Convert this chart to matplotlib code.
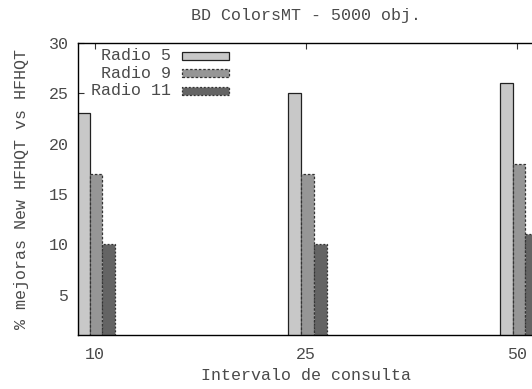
import matplotlib
matplotlib.use("Agg")
import matplotlib.pyplot as plt
from matplotlib.patches import Rectangle
import numpy as np

plt.rcParams['font.family'] = ['Liberation Mono', 'DejaVu Sans Mono']

categories = ["10", "25", "50"]
series_names = ["Radio 5", "Radio 9", "Radio 11"]
radio5 = [23, 25, 26]
radio9 = [17, 17, 18]
radio11 = [10, 10, 11]
series = [radio5, radio9, radio11]
yticks = [5, 10, 15, 20, 25, 30]

fills = ["#c8c8c8", "#969696", "#646464"]
edges = ["#222222", "#333333", "#333333"]
styles = ["solid", (0, (2, 1.5)), (0, (1.5, 1.5))]
txtc = '#4a4a4a'

W, H = 532, 389
fig = plt.figure(figsize=(W / 100, H / 100), dpi=100)
axL, axR, axT, axB = 77.5, 534.5, 42.7, 335.3
ax = fig.add_axes([axL / W, 1 - axB / H, (axR - axL) / W, (axB - axT) / H])

x = np.arange(len(categories))
width = 0.0605
shift = 0.007
for i, vals in enumerate(series):
    ax.bar(x + (i - 1) * width + shift, vals, width=width, bottom=0,
           color=fills[i], edgecolor=edges[i], linewidth=0.9,
           linestyle=styles[i], zorder=2)

ax.set_xlim(-0.0804, 2.0804)
ax.set_ylim(1, 30)
ax.set_xticks(x)
ax.set_xticklabels(categories)
ax.set_yticks(yticks)
ax.tick_params(axis='both', direction='in', length=4, width=0.8,
               labelsize=12, colors='#333333', labelcolor=txtc)
ax.tick_params(axis='x', top=True, pad=8.5)
ax.tick_params(axis='y', right=False, pad=6.5)
for s in ax.spines.values():
    s.set_linewidth(1.0)
    s.set_color('black')

ax.set_xlabel("Intervalo de consulta", fontsize=12, color=txtc, labelpad=4)
ax.set_ylabel("% mejoras New HFHQT vs HFHQT", fontsize=12, color=txtc, labelpad=14)
ax.set_title("BD ColorsMT - 5000 obj.", fontsize=12, color=txtc, pad=16)

# legend (gnuplot-style, right-aligned labels, samples on the right)
rows_y = [56, 73, 90.5]
for i, name in enumerate(series_names):
    fig.text(171 / W, 1 - rows_y[i] / H, name, ha='right', va='center',
             fontsize=12, color=txtc)
    fig.patches.append(Rectangle((182 / W, 1 - (rows_y[i] + 4) / H), 47 / W, 8 / H,
                                 transform=fig.transFigure, facecolor=fills[i],
                                 edgecolor=edges[i], linewidth=0.9,
                                 linestyle=styles[i]))

fig.savefig("out.png", dpi=100)
